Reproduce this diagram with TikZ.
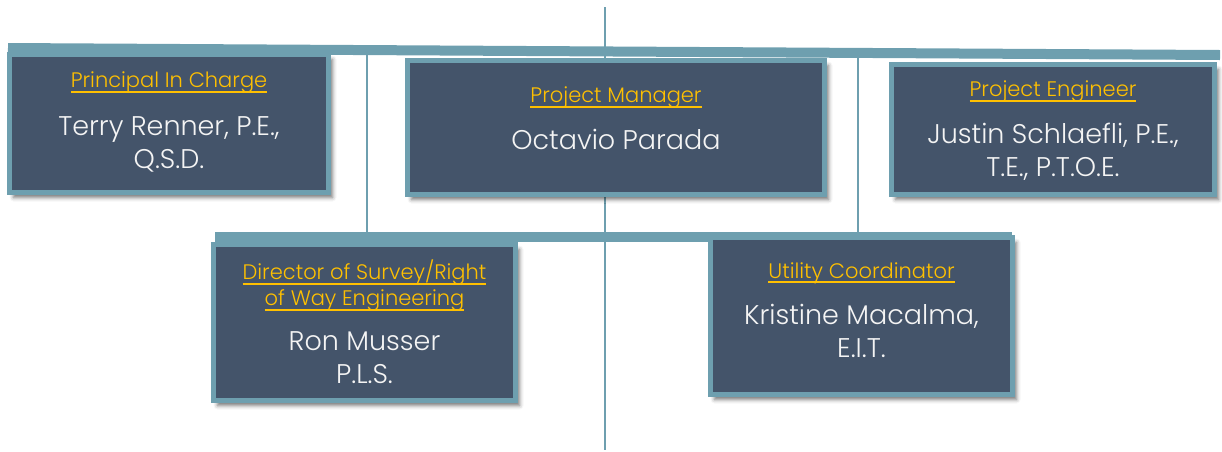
\documentclass[tikz,border=0pt]{standalone}
\usepackage{fontspec}
\setmainfont{Poppins}[UprightFont=* Light]
\usepackage{tikz}
\usetikzlibrary{positioning}
\usetikzlibrary{shadows.blur}

\definecolor{boxfill}{HTML}{44546A}
\definecolor{boxedge}{HTML}{6E9FAF}
\definecolor{roletext}{HTML}{FFC000}
\definecolor{nametext}{HTML}{F4F4F4}

% underlined role title, one line
\newcommand{\roleline}[1]{\leavevmode\setbox0=\hbox{#1}\rlap{\vrule width\wd0 height -2.8pt depth 4.8pt}\box0}

\tikzset{
	staffbox/.style={draw=boxedge, fill=boxfill, line width=5pt, inner sep=0pt,
		blur shadow={shadow xshift=4pt, shadow yshift=-5pt, shadow blur radius=4pt, shadow opacity=55}},
	role/.style={text=roletext, font=\fontsize{21}{26}\selectfont, align=center, inner sep=0pt},
	person/.style={text=nametext, font=\fontsize{27}{33}\selectfont, align=center, inner sep=0pt},
	bar/.style={boxedge, line width=10pt},
	link/.style={boxedge, line width=2pt}
}

\begin{document}
\begin{tikzpicture}[x=1pt, y=-1pt]
		\useasboundingbox (0,0) rectangle (1222,451);
		% trunk and bars
			\coordinate (trunkT) at (605,7);
			\coordinate (trunkB) at (605,450);
			\coordinate (topW) at (8,48);
			\coordinate (topE) at (1220,55);
			\coordinate (lowW) at (215,237);
			\coordinate (lowE) at (1012,237);
			\draw[link] (trunkT) -- (trunkB);
			\foreach \x in {367,858} {
				\coordinate (up\x) at (\x,52);
				\coordinate (dn\x) at (\x,236);
				\draw[link] (up\x) -- (dn\x);
			}
			\draw[bar] (topW) -- (topE);
			\draw[bar] (lowW) -- (lowE);
		% boxes
		\node[staffbox, minimum width=319pt, minimum height=138pt] (pic) at (169,123.5) {};
		\node[staffbox, minimum width=417pt, minimum height=134pt] (pm) at (616,127.5) {};
		\node[staffbox, minimum width=323pt, minimum height=130pt] (pe) at (1053,129.5) {};
		\node[staffbox, minimum width=302pt, minimum height=156pt] (dsr) at (364.5,322.5) {};
		\node[staffbox, minimum width=302pt, minimum height=157pt] (uc) at (861.5,316) {};
		% titles
		\node[role, anchor=north] (picR) at ([yshift=-20pt]pic.north) {\roleline{Principal In Charge}};
		\node[role, anchor=north] (pmR) at ([yshift=-29pt]pm.north) {\roleline{Project Manager}};
		\node[role, anchor=north] (peR) at ([yshift=-19pt]pe.north) {\roleline{Project Engineer}};
		\node[role, anchor=north] (dsrR) at ([yshift=-18pt]dsr.north) {\roleline{Director of Survey/Right}\\\roleline{of Way Engineering}};
		\node[role, anchor=north] (ucR) at ([yshift=-27pt]uc.north) {\roleline{Utility Coordinator}};
		% names
		\node[person, below=23pt of picR] (picN) {Terry Renner, P.E.,\\Q.S.D.};
		\node[person, below=20pt of pmR] (pmN) {Octavio Parada};
		\node[person, below=20pt of peR] (peN) {Justin Schlaefli, P.E.,\\T.E., P.T.O.E.};
		\node[person, below=20pt of dsrR] (dsrN) {Ron Musser\\P.L.S.};
		\node[person, below=20pt of ucR] (ucN) {Kristine Macalma,\\E.I.T.};
\end{tikzpicture}
\end{document}
